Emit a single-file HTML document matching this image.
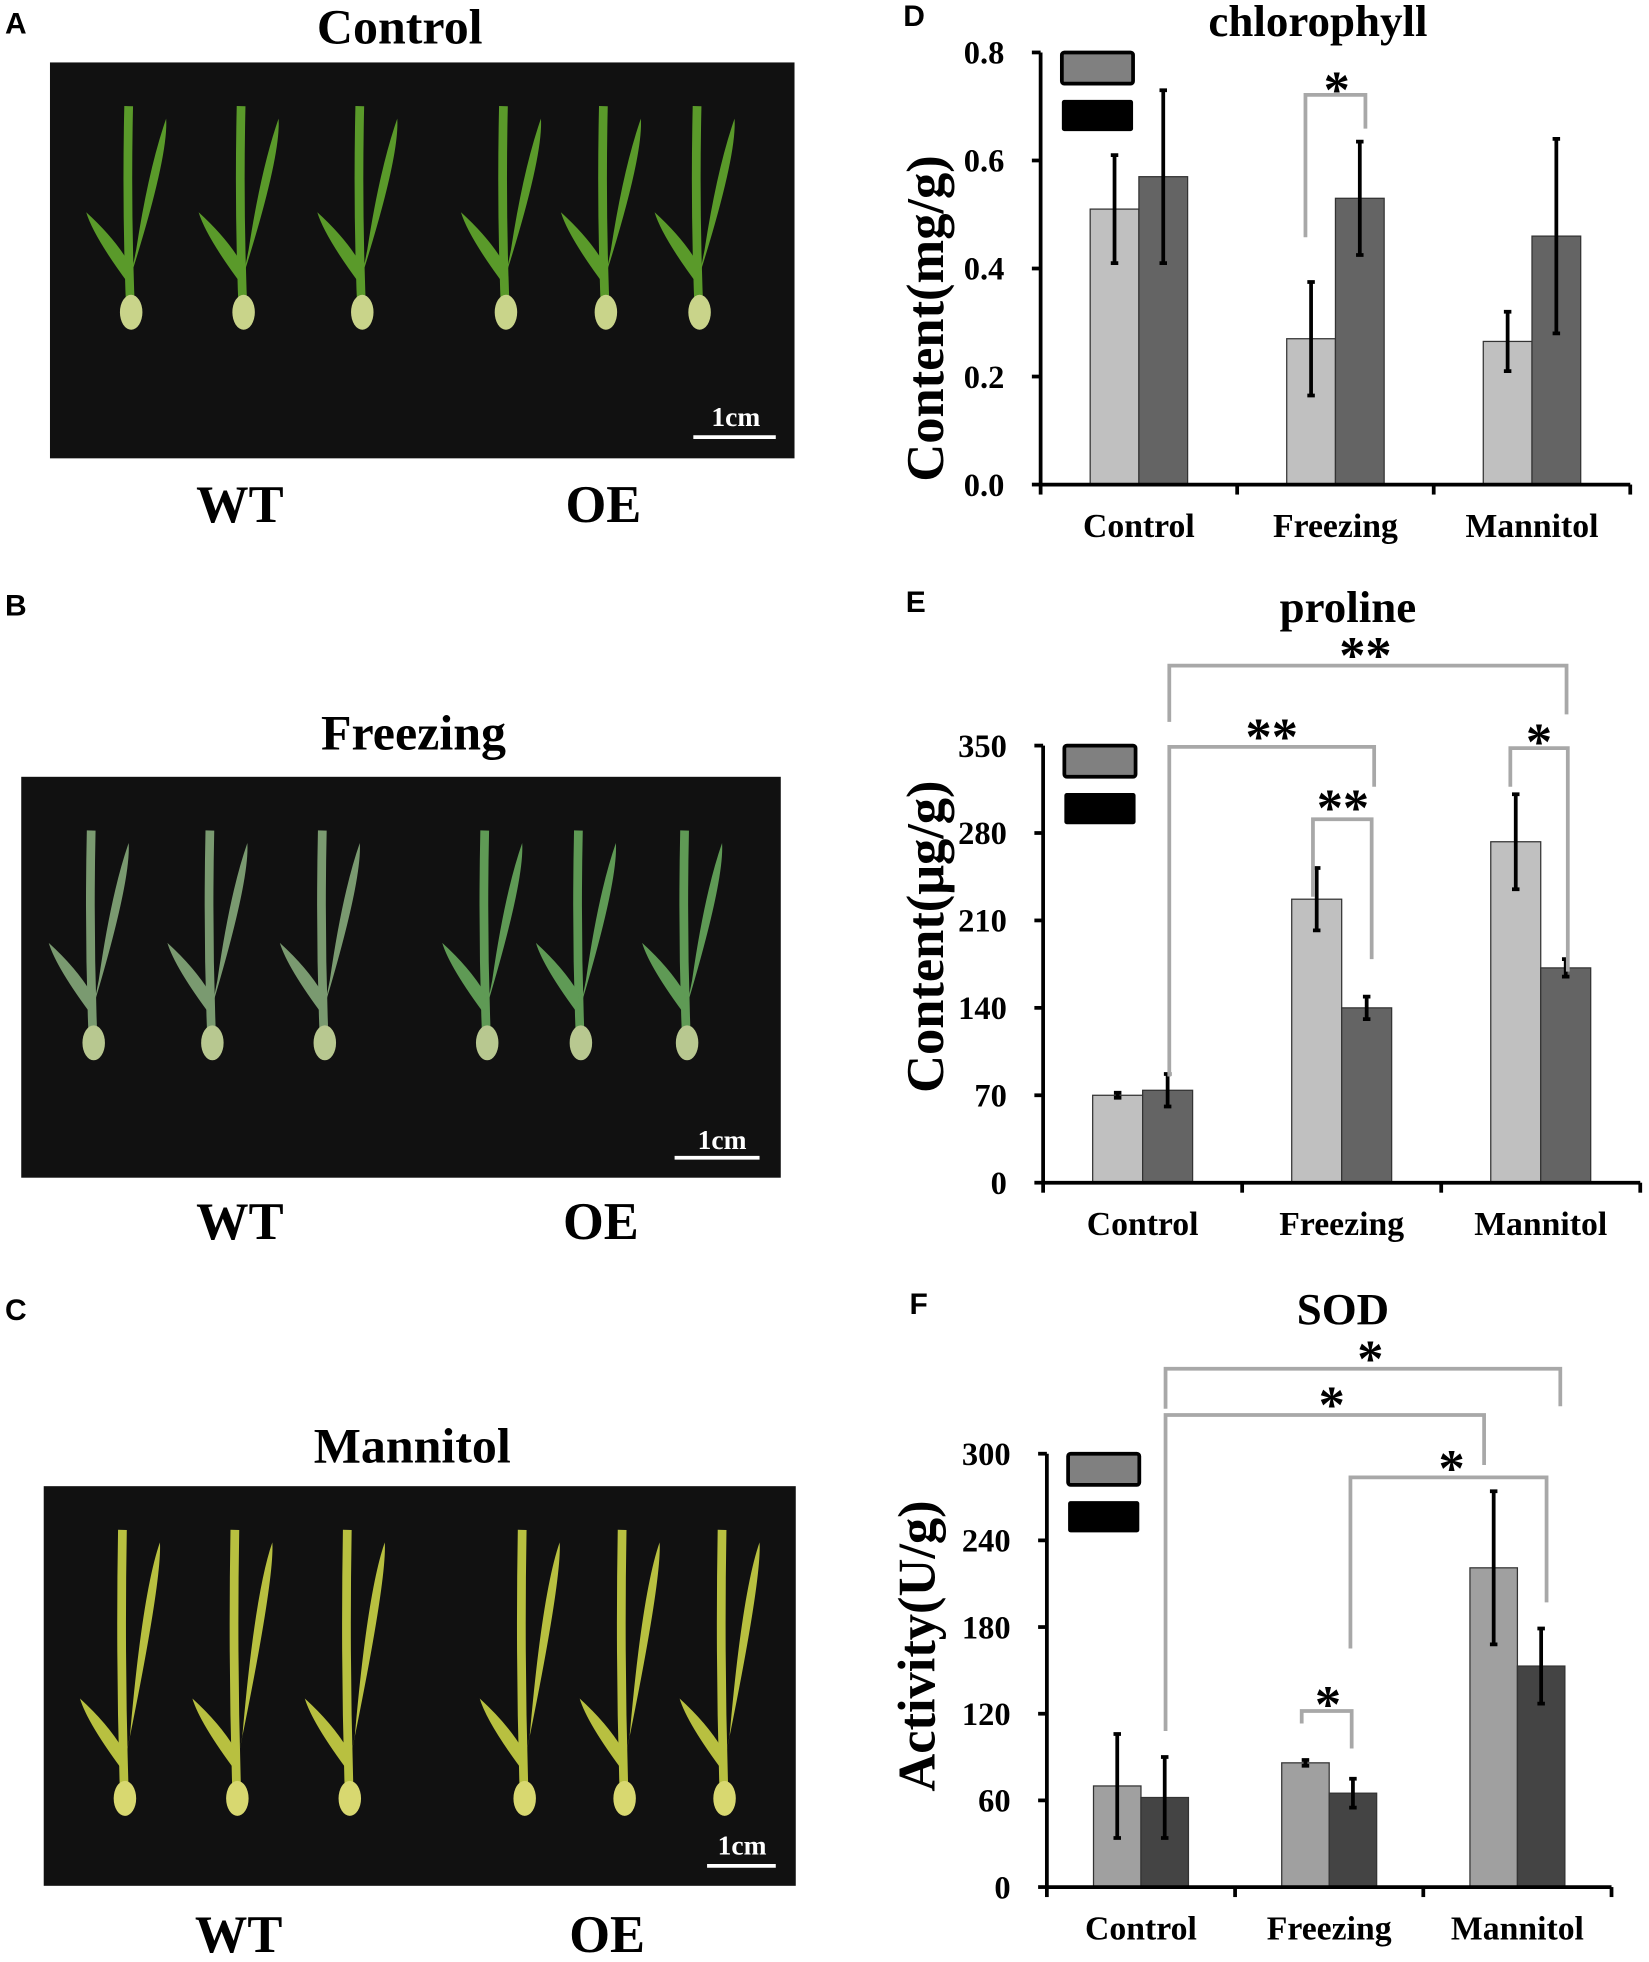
<!DOCTYPE html>
<html><head><meta charset="utf-8"><style>
html,body{margin:0;padding:0;background:#fff;}
svg{display:block;}
.ser{font-family:"Liberation Serif",serif;font-weight:bold;}
.san{font-family:"Liberation Sans",sans-serif;font-weight:bold;}
</style></head><body>
<svg id="fig" width="1649" height="1962" viewBox="0 0 1320 1571" preserveAspectRatio="none" xmlns="http://www.w3.org/2000/svg">
<g id="photos">
 <text class="san" x="4" y="27" font-size="24">A</text>
 <text class="ser" x="320" y="35" font-size="40" text-anchor="middle">Control</text>
 <rect x="40" y="50" width="596" height="317" fill="#111"/>
 <text class="ser" x="589" y="341" font-size="22" fill="#fff" text-anchor="middle">1cm</text>
 <line x1="555" y1="350" x2="621" y2="350" stroke="#fff" stroke-width="3"/>
 <text class="ser" x="192" y="418" font-size="42" text-anchor="middle">WT</text>
 <text class="ser" x="483" y="418" font-size="42" text-anchor="middle">OE</text>

 <text class="san" x="4" y="493" font-size="24">B</text>
 <text class="ser" x="331" y="600" font-size="40" text-anchor="middle">Freezing</text>
 <rect x="17" y="622" width="608" height="321" fill="#111"/>
 <text class="ser" x="578" y="920" font-size="22" fill="#fff" text-anchor="middle">1cm</text>
 <line x1="540" y1="927" x2="608" y2="927" stroke="#fff" stroke-width="3"/>
 <text class="ser" x="192" y="992" font-size="42" text-anchor="middle">WT</text>
 <text class="ser" x="481" y="992" font-size="42" text-anchor="middle">OE</text>

 <text class="san" x="4" y="1057" font-size="24">C</text>
 <text class="ser" x="330" y="1171" font-size="40" text-anchor="middle">Mannitol</text>
 <rect x="35" y="1190" width="602" height="320" fill="#111"/>
 <text class="ser" x="594" y="1485" font-size="22" fill="#fff" text-anchor="middle">1cm</text>
 <line x1="566" y1="1494" x2="621" y2="1494" stroke="#fff" stroke-width="3"/>
 <text class="ser" x="191" y="1563" font-size="42" text-anchor="middle">WT</text>
 <text class="ser" x="486" y="1563" font-size="42" text-anchor="middle">OE</text>
</g>
<g id="seedlings"></g>
<g id="charts"></g>
</svg>
<script>
// ---- Chart data ----
const categories = ["Control","Freezing","Mannitol"];
const chlWT = [0.51, 0.27, 0.265];
const chlOE = [0.57, 0.53, 0.46];
const chlWTerr = [0.10, 0.105, 0.055];
const chlOEerr = [0.16, 0.105, 0.18];
const chlTicks = ["0.0","0.2","0.4","0.6","0.8"];
const proWT = [70, 227, 273];
const proOE = [74, 140, 172];
const proWTerr = [2, 25, 38];
const proOEerr = [13, 9, 7];
const proTicks = ["0","70","140","210","280","350"];
const sodWT = [70, 86, 221];
const sodOE = [62, 65, 153];
const sodWTerr = [36, 2, 53];
const sodOEerr = [28, 10, 26];
const sodTicks = ["0","60","120","180","240","300"];

const NS = "http://www.w3.org/2000/svg";
function mk(parent, tag, attrs, text){
  const e = document.createElementNS(NS, tag);
  for (const k in attrs) e.setAttribute(k, attrs[k]);
  if (text !== undefined) e.textContent = text;
  parent.appendChild(e); return e;
}

// seedlings (decorative photo content)
const sg = document.getElementById('seedlings');
function seedling(x, yTop, yBot, col, base){
  const g = mk(sg,'g',{});
  
  
  mk(g,'path',{d:`M${x} ${yBot} Q${x-4} ${(yTop+yBot)/2} ${x-2} ${yTop}`,stroke:col,'stroke-width':7,fill:'none'});
  mk(g,'path',{d:`M${x} ${yBot-40} Q${x+30} ${yTop+40} ${x+28} ${yTop+10} Q${x+14} ${yTop+50} ${x+4} ${yBot-60} Z`,fill:col});
  mk(g,'path',{d:`M${x} ${yBot-30} Q${x-30} ${yBot-70} ${x-36} ${yBot-90} Q${x-14} ${yBot-70} ${x-2} ${yBot-50} Z`,fill:col});
  mk(g,'ellipse',{cx:x,cy:yBot-10,rx:9,ry:14,fill:base});
}
[105,195,290,405,485,560].forEach((x,i)=>seedling(x,85,260,'#5a9a2a','#c9d48a'));
[75,170,260,390,465,550].forEach((x,i)=>seedling(x,665,845,i<3?'#7a9a70':'#5f9a55','#b8c890'));
[100,190,280,420,500,580].forEach((x,i)=>seedling(x,1225,1450,'#b8c040','#d8d870'));

// ---- Charts ----
const charts = document.getElementById('charts');
function chart(opt){
  const g = mk(charts,'g',{});
  
  
  const yScale = v => opt.y0 - (v - 0) / opt.max * (opt.y0 - opt.yTop);
  const bandW = (opt.xR - opt.x0) / categories.length;
  const xCenter = i => opt.x0 + bandW * (i + 0.5);
  const t = mk(g,'text',{class:'ser',x:opt.titleX,y:opt.titleY,'font-size':36,'text-anchor':'middle'},opt.title);
  
  
  const pl = mk(g,'text',{class:'san',x:opt.x0-110,y:opt.titleY-8,'font-size':24},opt.letter);
  
  
  const yl = mk(g,'text',{class:'ser','font-size':42,'text-anchor':'middle',transform:`translate(${opt.ylabX},${opt.ylabY}) rotate(-90)`},opt.ylabel);
  
  
  const bw = opt.barW;
  [[opt.wt,opt.wtErr,opt.c1,-1],[opt.oe,opt.oeErr,opt.c2,0]].forEach(([vals,errs,col,off],s)=>{
    vals.forEach((v,i)=>{
      const x = xCenter(i) + off*bw;
      const r = mk(g,'rect',{x:x,y:yScale(v),width:bw,height:opt.y0-yScale(v),fill:col,stroke:'#333','stroke-width':1});
      
      
      const cx = x + bw/2;
      const e = mk(g,'path',{d:`M${cx} ${yScale(v+errs[i])} V${yScale(v-errs[i])} M${cx-3} ${yScale(v+errs[i])} H${cx+3} M${cx-3} ${yScale(v-errs[i])} H${cx+3}`,stroke:'#000','stroke-width':3,fill:'none'});
      
      
    });
  });
  const ax = mk(g,'path',{d:`M${opt.x0} ${opt.yTop} V${opt.y0} H${opt.xR}`,stroke:'#000','stroke-width':3,fill:'none'});
  
  
  for (let i=0;i<=categories.length;i++){
    const x = opt.x0 + bandW*i;
    mk(g,'line',{x1:x,y1:opt.y0,x2:x,y2:opt.y0+8,stroke:'#000','stroke-width':3});
  }
  opt.ticks.forEach((lab,i)=>{
    const v = opt.max * i/(opt.ticks.length-1);
    const y = yScale(v);
    mk(g,'line',{x1:opt.x0-7,y1:y,x2:opt.x0,y2:y,stroke:'#000','stroke-width':3});
    const tl = mk(g,'text',{class:'ser',x:opt.x0-29,y:y+9,'font-size':26,'text-anchor':'end'},lab);
    
    
  });
  categories.forEach((c,i)=>{
    const cl = mk(g,'text',{class:'ser',x:xCenter(i),y:opt.y0+42,'font-size':27,'text-anchor':'middle'},c);
    
    
  });
  const l1 = mk(g,'rect',{x:opt.x0+17,y:opt.legY,width:57,height:25,fill:'#808080',stroke:'#000','stroke-width':3,rx:2});
  
  
  const l2 = mk(g,'rect',{x:opt.x0+17,y:opt.legY+38,width:57,height:25,fill:'#000',rx:2});
  
  
  opt.sig.forEach(s=>{
    const p = mk(g,'path',{d:`M${s[0]} ${s[1]} V${s[2]} H${s[3]} V${s[4]}`,stroke:'#a8a8a8','stroke-width':3,fill:'none'});
    
    
    const st = mk(g,'text',{class:'ser',x:s[5],y:s[6]+6,'font-size':42,'text-anchor':'middle'},s[7]);
    
    
  });
}

chart({name:'chlorophyll-chart',letter:'D',title:'chlorophyll',titleX:1055,titleY:29,ylabel:'Content(mg/g)',ylabX:755,ylabY:255,
  x0:833,xR:1305,y0:388,yTop:42,max:0.8,ticks:chlTicks,barW:39,wt:chlWT,oe:chlOE,wtErr:chlWTerr,oeErr:chlOEerr,
  c1:'#c0c0c0',c2:'#646464',legY:42,
  sig:[[1045,190,76,1093,103,1070,80,'*']]});
chart({name:'proline-chart',letter:'E',title:'proline',titleX:1079,titleY:498,ylabel:'Content(μg/g)',ylabX:755,ylabY:750,
  x0:835,xR:1313,y0:947,yTop:597,max:350,ticks:proTicks,barW:40,wt:proWT,oe:proOE,wtErr:proWTerr,oeErr:proOEerr,
  c1:'#c0c0c0',c2:'#646464',legY:597,
  sig:[[936,578,533,1254,572,1093,533,'**'],[936,862,598,1100,630,1018,598,'**'],[1051,718,656,1098,768,1075,655,'**'],[1209,630,599,1255,778,1232,602,'*']]});
chart({name:'sod-chart',letter:'F',title:'SOD',titleX:1075,titleY:1060,ylabel:'Activity(U/g)',ylabX:748,ylabY:1318,
  x0:838,xR:1290,y0:1511,yTop:1164,max:300,ticks:sodTicks,barW:38,wt:sodWT,oe:sodOE,wtErr:sodWTerr,oeErr:sodOEerr,
  c1:'#a0a0a0',c2:'#444444',legY:1164,
  sig:[[933,1128,1096,1249,1126,1097,1096,'*'],[933,1386,1133,1188,1173,1066,1133,'*'],[1081,1320,1183,1238,1283,1162,1184,'*'],[1042,1380,1370,1082,1400,1063,1373,'*']]});
</script>
</body></html>
